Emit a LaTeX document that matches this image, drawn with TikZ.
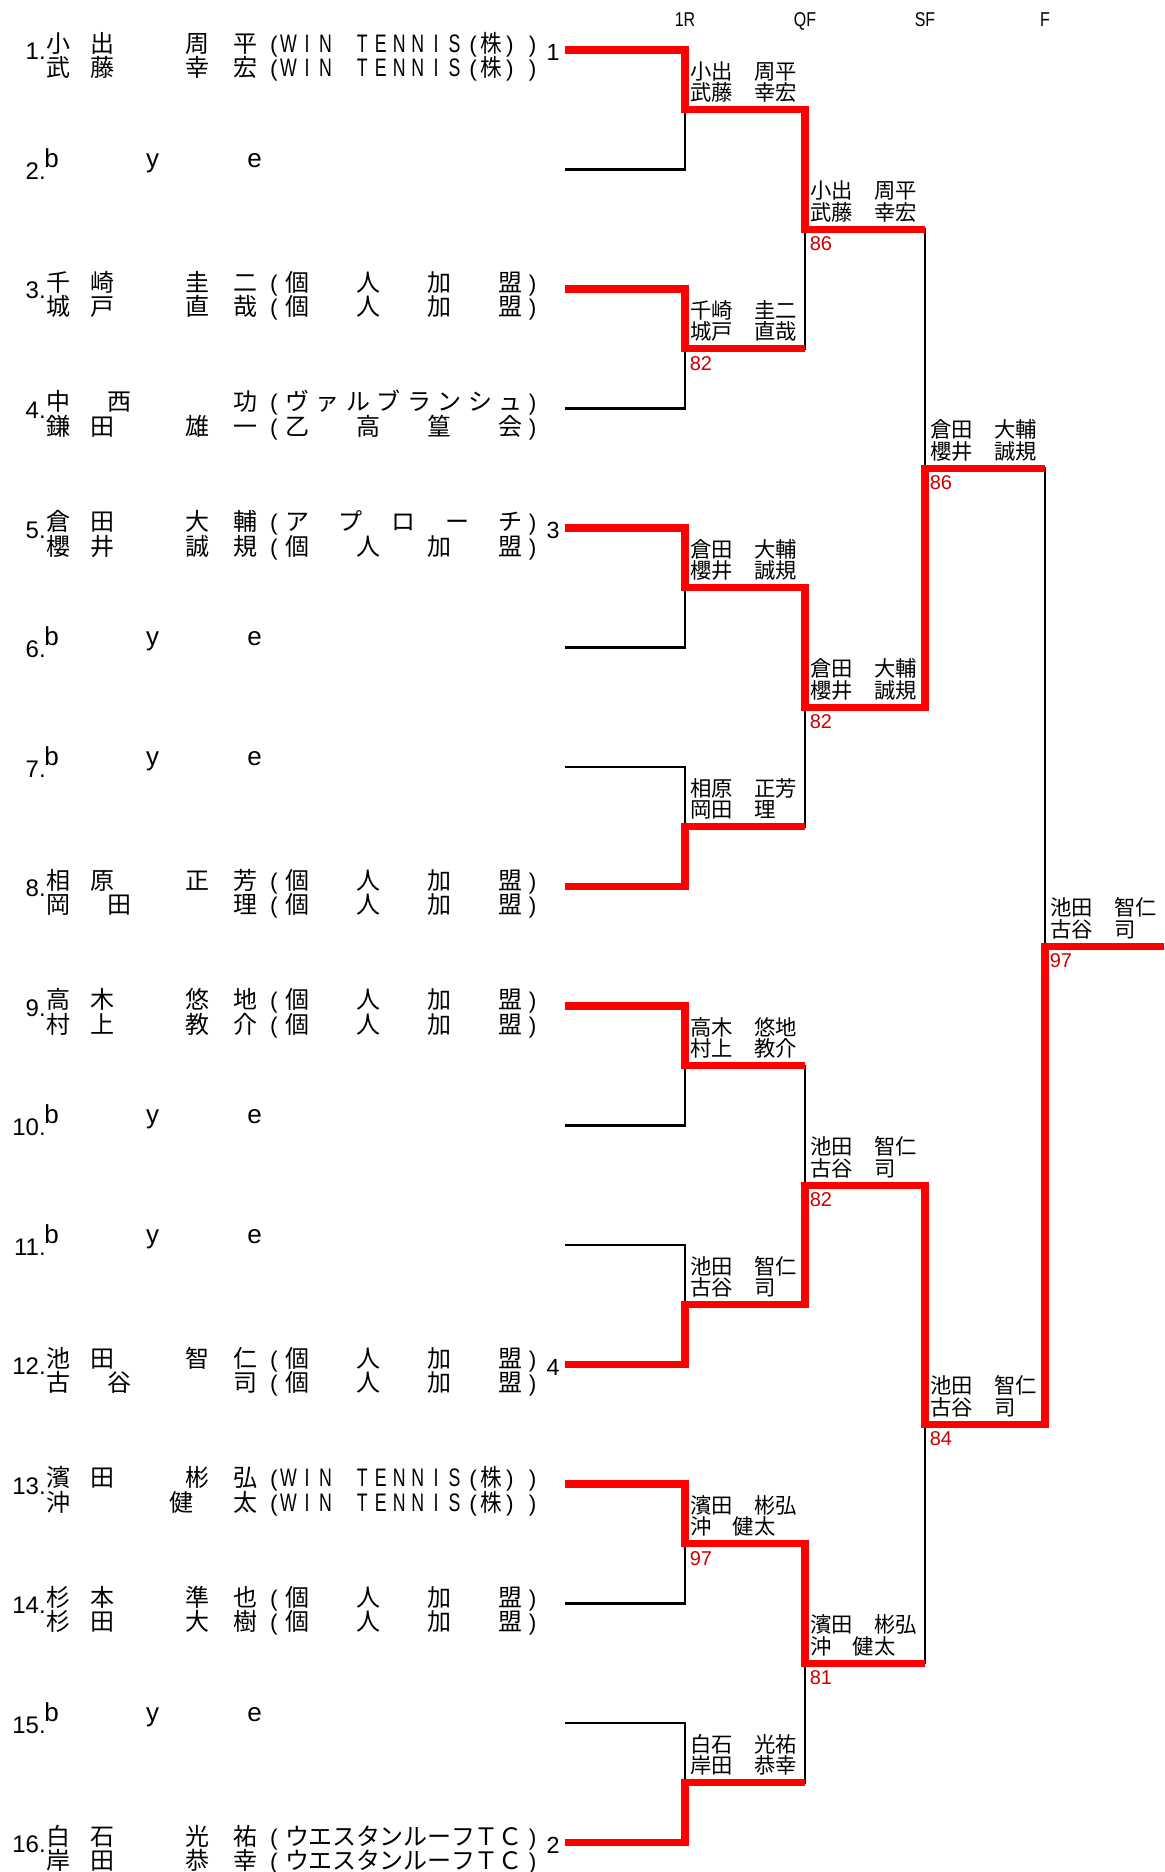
\documentclass[tikz,border=0pt]{standalone}
\usepackage{fontspec}
\setmainfont{Liberation Sans}
\newfontfamily\jp{Noto Sans CJK JP}
\usetikzlibrary{calc}
\definecolor{scorered}{RGB}{204,0,0}
\tikzstyle{bline} = [line width=1.8pt, black]
\tikzstyle{rline} = [line width=5.3pt, red]
\tikzstyle{num} = [inner sep=0, anchor=base east, font=\fontsize{18pt}{18pt}\selectfont]
\tikzstyle{seed} = [inner sep=0, anchor=base, font=\fontsize{17.5pt}{17.5pt}\selectfont]
\tikzstyle{nm} = [inner sep=0, anchor=base, font=\jp\fontsize{18pt}{18pt}\selectfont]
\tikzstyle{lat} = [inner sep=0, anchor=base, font=\fontsize{19.5pt}{19.5pt}\selectfont]
\tikzstyle{par} = [inner sep=0, anchor=base, font=\fontsize{17pt}{17pt}\selectfont]
\tikzstyle{cond} = [inner sep=0, anchor=base, font=\fontsize{19pt}{19pt}\selectfont]
\tikzstyle{lbl} = [inner sep=0, anchor=base west, font=\jp\fontsize{16pt}{16pt}\selectfont]
\tikzstyle{score} = [inner sep=0, anchor=base west, text=scorered, font=\fontsize{15pt}{15pt}\selectfont]
\tikzstyle{hdr} = [inner sep=0, anchor=base, font=\fontsize{15pt}{15pt}\selectfont]

\newcommand\nmline[3]{\foreach \x/\c [count=\k] in {#3} \node[nm] (#1-\k) at (\x,#2) {\c};}
\newcommand\affEven[4]{%
  \node[par] (#1-l) at (274,#2) {(};
  \foreach \c [count=\k] in {#4} \node[nm] (#1-\k) at ({297+(\k-1)*213.5/(#3-1)},#2) {\c};
  \node[par] (#1-r) at (532.6,#2) {)};}
\newcommand\affKojin[2]{\affEven{#1}{#2}{4}{個,人,加,盟}}
\newcommand\affVB[2]{\affEven{#1}{#2}{8}{ヴ,ァ,ル,ブ,ラ,ン,シ,ュ}}
\newcommand\affOtsu[2]{\affEven{#1}{#2}{4}{乙,高,篁,会}}
\newcommand\affAppr[2]{\affEven{#1}{#2}{5}{ア,プ,ロ,ー,チ}}
\newcommand\affWest[2]{\affEven{#1}{#2}{10}{ウ,エ,ス,タ,ン,ル,ー,フ,Ｔ,Ｃ}}
\newcommand\affWin[2]{%
  \node[par] (#1-l) at (274,#2) {(};
  \foreach \k/\c in {1/W,2/I,3/N,5/T,6/E,7/N,8/N,9/I,10/S}
    \node[cond] (#1-\k) at ({288.5+(\k-1)*18.46},#2) {\scalebox{0.7}[1]{\c}};
  \node[par] (#1-11) at (473.1,#2) {(};
  \node[nm] (#1-12) at (491.6,#2) {\scalebox{0.9}[1]{株}};
  \node[par] (#1-13) at (510,#2) {)};
  \node[par] (#1-r) at (532.6,#2) {)};}
\newcommand\player[5]{%
  \pgfmathsetmacro\ry{50+(#1-1)*119.5}
  \node[num] (n#1) at (46,\ry+10) {#1.};
  \nmline{a#1}{\ry+2.5}{#2}#3{fa#1}{\ry+2.5}
  \nmline{b#1}{\ry+27}{#4}#5{fb#1}{\ry+27}}
\newcommand\byerow[1]{%
  \pgfmathsetmacro\ry{50+(#1-1)*119.5}
  \node[num] (n#1) at (46,\ry+10) {#1.};
  \foreach \x/\c in {51.5/b,152.5/y,254.5/e} \node[lat] (bye#1\c) at (\x,\ry-2) {\c};}
\newcommand\res[3]{%
  \node[lbl] (#1-t) at ($(#1)+(5,-30.5)$) {#2};
  \node[lbl] (#1-u) at ($(#1)+(5,-9)$) {#3};}
\newcommand\scr[2]{\node[score] (#1-s) at ($(#1)+(4.5,21.5)$) {#2};}

\begin{document}
\begin{tikzpicture}[x=0.75pt,y=-0.75pt]
\useasboundingbox[fill=white] (0,0) rectangle (1164,1872);

\foreach \x/\t [count=\k] in {685/1R,805/QF,925/SF,1045/F}
  \node[hdr] (h\k) at (\x,26.7) {\scalebox{0.8}[1]{\t}};

\foreach \i in {1,...,16} \coordinate (p\i) at (565,{50+(\i-1)*119.5});
\foreach \k in {1,...,8} \coordinate (m\k) at (685,{50+(2*\k-1.5)*119.5});
\foreach \k in {1,...,4} \coordinate (q\k) at (805,{50+(4*\k-2.5)*119.5});
\foreach \k in {1,2} \coordinate (s\k) at (925,{50+(8*\k-4.5)*119.5});
\coordinate (f) at (1045,{50+7.5*119.5});
\coordinate (w) at (1164,{50+7.5*119.5});

\foreach \i in {1,...,16}{
  \pgfmathtruncatemacro\k{(\i+1)/2}
  \draw[bline] (p\i) -| (m\k);
}
\foreach \k in {1,...,8}{
  \pgfmathtruncatemacro\j{(\k+1)/2}
  \draw[bline] (m\k) -| (q\j);
}
\foreach \k in {1,...,4}{
  \pgfmathtruncatemacro\j{(\k+1)/2}
  \draw[bline] (q\k) -| (s\j);
}
\foreach \k in {1,2} \draw[bline] (s\k) -| (f);
\draw[bline] (f) -- (w);

\draw[rline] (p1) -| (m1) -| (q1) -- (q1 -| s1);
\draw[rline] (p3) -| (m2) -- (m2 -| q1);
\draw[rline] (p5) -| (m3) -| (q2) -| (s1) -- (s1 -| f);
\draw[rline] (p8) -| (m4) -- (m4 -| q2);
\draw[rline] (p9) -| (m5) -- (m5 -| q3);
\draw[rline] (p12) -| (m6) -| (q3) -| (s2) -| (f) -- (w);
\draw[rline] (p13) -| (m7) -| (q4) -- (q4 -| s2);
\draw[rline] (p16) -| (m8) -- (m8 -| q4);

\foreach \i/\s in {1/1,5/3,12/4,16/2}
  \node[seed] (sd\s) at (553,{50+(\i-1)*119.5+10.5}) {\s};

\player{1}{58/小,102.6/出,197/周,245/平}\affWin{58/武,102.6/藤,197/幸,245/宏}\affWin
\byerow{2}
\player{3}{58/千,102.6/崎,197/圭,245/二}\affKojin{58/城,102.6/戸,197/直,245/哉}\affKojin
\player{4}{58/中,119/西,245/功}\affVB{58/鎌,102.6/田,197/雄,245/一}\affOtsu
\player{5}{58/倉,102.6/田,197/大,245/輔}\affAppr{58/櫻,102.6/井,197/誠,245/規}\affKojin
\byerow{6}
\byerow{7}
\player{8}{58/相,102.6/原,197/正,245/芳}\affKojin{58/岡,119/田,245/理}\affKojin
\player{9}{58/高,102.6/木,197/悠,245/地}\affKojin{58/村,102.6/上,197/教,245/介}\affKojin
\byerow{10}
\byerow{11}
\player{12}{58/池,102.6/田,197/智,245/仁}\affKojin{58/古,119/谷,245/司}\affKojin
\player{13}{58/濱,102.6/田,197/彬,245/弘}\affWin{58/沖,181/健,245/太}\affWin
\player{14}{58/杉,102.6/本,197/準,245/也}\affKojin{58/杉,102.6/田,197/大,245/樹}\affKojin
\byerow{15}
\player{16}{58/白,102.6/石,197/光,245/祐}\affWest{58/岸,102.6/田,197/恭,245/幸}\affWest

\res{m1}{小出　周平}{武藤　幸宏}
\res{m2}{千崎　圭二}{城戸　直哉} \scr{m2}{82}
\res{m3}{倉田　大輔}{櫻井　誠規}
\res{m4}{相原　正芳}{岡田　理}
\res{m5}{高木　悠地}{村上　教介}
\res{m6}{池田　智仁}{古谷　司}
\res{m7}{濱田　彬弘}{沖　健太} \scr{m7}{97}
\res{m8}{白石　光祐}{岸田　恭幸}
\res{q1}{小出　周平}{武藤　幸宏} \scr{q1}{86}
\res{q2}{倉田　大輔}{櫻井　誠規} \scr{q2}{82}
\res{q3}{池田　智仁}{古谷　司} \scr{q3}{82}
\res{q4}{濱田　彬弘}{沖　健太} \scr{q4}{81}
\res{s1}{倉田　大輔}{櫻井　誠規} \scr{s1}{86}
\res{s2}{池田　智仁}{古谷　司} \scr{s2}{84}
\res{f}{池田　智仁}{古谷　司} \scr{f}{97}
\end{tikzpicture}
\end{document}
